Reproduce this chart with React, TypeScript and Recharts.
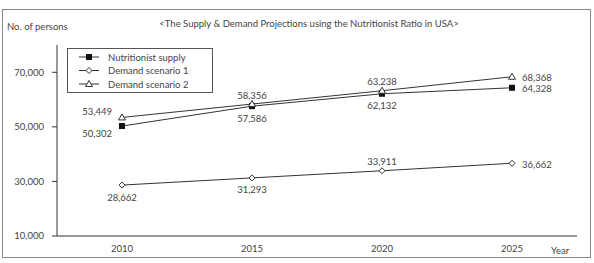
import React from 'react';
import { LineChart, Line, XAxis, YAxis, Legend, LabelList } from 'recharts';

// ---- data ----
const years = [2010, 2015, 2020, 2025];
const bandEdges = [2012.5, 2017.5, 2022.5, 2027.5];
const supply = [50302, 57586, 62132, 64328];
const demand1 = [28662, 31293, 33911, 36662];
const demand2 = [53449, 58356, 63238, 68368];
const yTicks = [10000, 30000, 50000, 70000];
const seriesNames = ['Nutritionist supply', 'Demand scenario 1', 'Demand scenario 2'];
const titleText = '<The Supply & Demand Projections using the Nutritionist Ratio in USA>';
const yTitle = 'No. of persons';
const xTitle = 'Year';

// label placement per point (style, not data)
const supplyPos = ['left-below', 'below', 'below', 'right'];
const demand1Pos = ['below', 'below', 'above', 'right'];
const demand2Pos = ['left-above', 'above', 'above', 'right'];

const data = years.map((year, i) => ({
  year,
  supply: supply[i],
  demand1: demand1[i],
  demand2: demand2[i],
}));

const FONT = 'Lato, "Liberation Sans", sans-serif';
const TXT = '#444';
const LINE = '#333';

const fmt = (v: number) => Number(v).toLocaleString('en-US');

const makeLabel = (pos: string[]) => (props: any) => {
  const { x, y, value, index } = props;
  const p = pos[index];
  let tx = x;
  let ty = y;
  let anchor: 'middle' | 'start' | 'end' = 'middle';
  if (p === 'below') ty = y + 12;
  else if (p === 'above') ty = y - 9;
  else if (p === 'right') {
    tx = x + 10;
    ty = y + 1;
    anchor = 'start';
  } else if (p === 'left-below') {
    tx = x - 10;
    ty = y + 7;
    anchor = 'end';
  } else if (p === 'left-above') {
    tx = x - 10;
    ty = y - 6;
    anchor = 'end';
  }
  return (
    <text
      x={tx}
      y={ty}
      textAnchor={anchor}
      dominantBaseline="central"
      fontSize={9.5}
      fill={TXT}
      fontFamily={FONT}
    >
      {fmt(value)}
    </text>
  );
};

const Square = (cx: number, cy: number, key?: any) => (
  <rect key={key} x={cx - 3} y={cy - 3} width={6} height={6} fill="#111" />
);
const Diamond = (cx: number, cy: number, key?: any) => (
  <path
    key={key}
    d={`M${cx},${cy - 3}L${cx + 3},${cy}L${cx},${cy + 3}L${cx - 3},${cy}Z`}
    fill="#fff"
    stroke={LINE}
    strokeWidth={1}
  />
);
const Triangle = (cx: number, cy: number, key?: any) => (
  <path
    key={key}
    d={`M${cx},${cy - 3.5}L${cx + 3.5},${cy + 2.5}L${cx - 3.5},${cy + 2.5}Z`}
    fill="#fff"
    stroke={LINE}
    strokeWidth={1}
  />
);
const markers = [Square, Diamond, Triangle];

const LegendBox = () => (
  <svg width={146} height={45} style={{ display: 'block' }}>
    <rect x={0.5} y={0.5} width={145} height={44} fill="#fff" stroke="#555" strokeWidth={1} />
    {seriesNames.map((name, i) => {
      const cy = 9 + i * 13.5;
      return (
        <g key={name}>
          <line x1={12} x2={32} y1={cy} y2={cy} stroke={LINE} strokeWidth={1} />
          {markers[i](22, cy)}
          <text x={41} y={cy} dominantBaseline="central" fontSize={9.5} fill={TXT} fontFamily={FONT}>
            {name}
          </text>
        </g>
      );
    })}
  </svg>
);

const EmptyTick = () => <g />;

export default function App() {
  return (
    <div
      style={{
        position: 'absolute',
        left: 0,
        top: 0,
        width: 594,
        height: 263,
        background: '#fff',
        fontFamily: FONT,
        overflow: 'hidden',
      }}
    >
      <div
        style={{
          position: 'absolute',
          left: 2,
          top: 9,
          width: 587,
          height: 247,
          border: '1.5px solid #888',
        }}
      />
      <div
        style={{
          position: 'absolute',
          left: 7,
          top: 20,
          fontSize: 9.5,
          color: TXT,
          whiteSpace: 'nowrap',
          lineHeight: '14px',
        }}
      >
        {yTitle}
      </div>
      <div
        style={{
          position: 'absolute',
          left: 109,
          top: 17,
          width: 400,
          textAlign: 'center',
          fontSize: 9.5,
          color: TXT,
          whiteSpace: 'nowrap',
          lineHeight: '14px',
        }}
      >
        {titleText}
      </div>
      <div
        style={{
          position: 'absolute',
          left: 551,
          top: 244,
          fontSize: 9.5,
          color: TXT,
          whiteSpace: 'nowrap',
          lineHeight: '14px',
        }}
      >
        {xTitle}
      </div>
      <div style={{ position: 'absolute', left: 0, top: 0 }}>
        <LineChart
          width={594}
          height={263}
          data={data}
          margin={{ top: 45, right: 17, bottom: 7, left: 7 }}
        >
          <XAxis
            xAxisId="edges"
            type="number"
            domain={[2007.5, 2027.5]}
            ticks={bandEdges}
            allowDataOverflow
            mirror
            height={0}
            tickSize={4}
            tickLine={{ stroke: LINE }}
            axisLine={false}
            tick={EmptyTick}
          />
          <XAxis
            dataKey="year"
            type="number"
            domain={[2007.5, 2027.5]}
            ticks={years}
            allowDataOverflow
            height={20}
            tickLine={false}
            tickSize={6}
            tickMargin={3}
            axisLine={{ stroke: LINE }}
            tick={{ fontSize: 9.5, fill: TXT, fontFamily: FONT }}
          />
          <YAxis
            domain={[10000, 80000]}
            ticks={yTicks}
            allowDataOverflow
            width={50}
            tickSize={5}
            tickMargin={8}
            tickFormatter={fmt}
            axisLine={{ stroke: LINE }}
            tickLine={{ stroke: LINE }}
            tick={{ fontSize: 9.5, fill: TXT, fontFamily: FONT }}
          />
          <Legend
            layout="vertical"
            align="center"
            verticalAlign="middle"
            wrapperStyle={{ position: 'absolute', left: 67, top: 48, width: 146, height: 45 }}
            content={<LegendBox />}
          />
          <Line
            name={seriesNames[0]}
            dataKey="supply"
            stroke={LINE}
            strokeWidth={1}
            isAnimationActive={false}
            dot={(p: any) => Square(p.cx, p.cy, `s${p.index}`)}
          >
            <LabelList dataKey="supply" content={makeLabel(supplyPos)} />
          </Line>
          <Line
            name={seriesNames[1]}
            dataKey="demand1"
            stroke={LINE}
            strokeWidth={1}
            isAnimationActive={false}
            dot={(p: any) => Diamond(p.cx, p.cy, `d${p.index}`)}
          >
            <LabelList dataKey="demand1" content={makeLabel(demand1Pos)} />
          </Line>
          <Line
            name={seriesNames[2]}
            dataKey="demand2"
            stroke={LINE}
            strokeWidth={1}
            isAnimationActive={false}
            dot={(p: any) => Triangle(p.cx, p.cy, `t${p.index}`)}
          >
            <LabelList dataKey="demand2" content={makeLabel(demand2Pos)} />
          </Line>
        </LineChart>
      </div>
    </div>
  );
}
